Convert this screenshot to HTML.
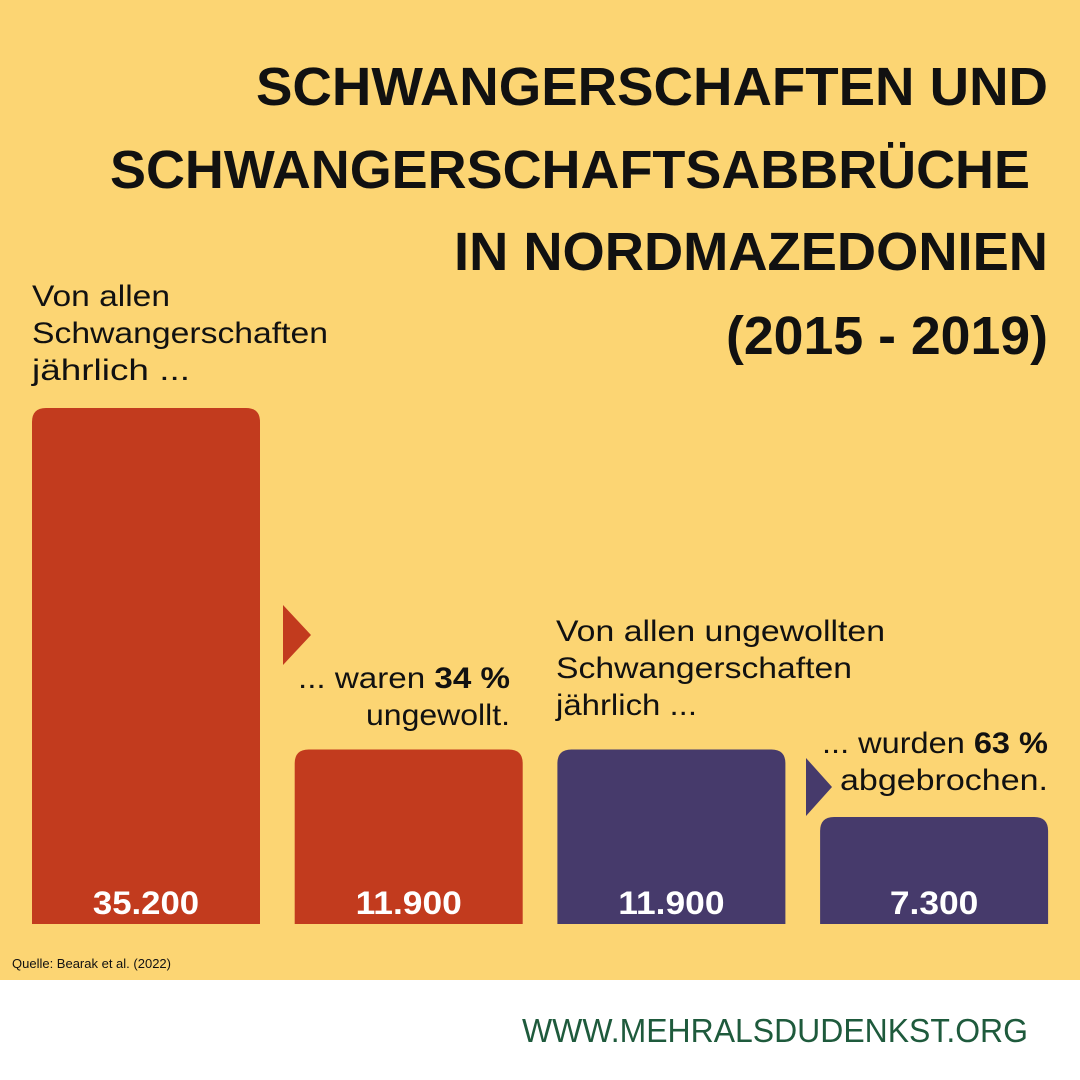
<!DOCTYPE html>
<html><head><meta charset="utf-8">
<style>
html,body{margin:0;padding:0;background:#ffffff;}
body{width:1080px;height:1080px;overflow:hidden;font-family:"Liberation Sans",sans-serif;}
svg{display:block;}
</style></head>
<body>
<svg id="chart" width="1080" height="1080" viewBox="0 0 1080 1080" xmlns="http://www.w3.org/2000/svg" font-family="Liberation Sans, sans-serif">
<rect x="0" y="0" width="1080" height="980" fill="#fcd573"/>
<rect x="0" y="980" width="1080" height="100" fill="#ffffff"/>
<g font-weight="bold" font-size="54" fill="#111" text-anchor="end">
<text x="1048" y="105" textLength="792" lengthAdjust="spacingAndGlyphs">SCHWANGERSCHAFTEN UND</text>
<text x="1030" y="188" textLength="920" lengthAdjust="spacingAndGlyphs">SCHWANGERSCHAFTSABBRÜCHE</text>
<text x="1048" y="270" textLength="594" lengthAdjust="spacingAndGlyphs">IN NORDMAZEDONIEN</text>
<text x="1048" y="354" textLength="322" lengthAdjust="spacingAndGlyphs">(2015 - 2019)</text>
</g>
<g font-size="30" fill="#111">
<text x="32" y="306" textLength="138" lengthAdjust="spacingAndGlyphs">Von allen</text>
<text x="32" y="343" textLength="296" lengthAdjust="spacingAndGlyphs">Schwangerschaften</text>
<text x="32" y="380" textLength="158" lengthAdjust="spacingAndGlyphs">jährlich ...</text>
</g>
<g font-size="30" fill="#111" text-anchor="end">
<text x="510" y="688" textLength="212" lengthAdjust="spacingAndGlyphs">... waren <tspan font-weight="bold">34 %</tspan></text>
<text x="510" y="725" textLength="144" lengthAdjust="spacingAndGlyphs">ungewollt.</text>
</g>
<g font-size="30" fill="#111">
<text x="556" y="641" textLength="329" lengthAdjust="spacingAndGlyphs">Von allen ungewollten</text>
<text x="556" y="678" textLength="296" lengthAdjust="spacingAndGlyphs">Schwangerschaften</text>
<text x="556" y="715" textLength="141" lengthAdjust="spacingAndGlyphs">jährlich ...</text>
</g>
<g font-size="30" fill="#111" text-anchor="end">
<text x="1048" y="753" textLength="226" lengthAdjust="spacingAndGlyphs">... wurden <tspan font-weight="bold">63 %</tspan></text>
<text x="1048" y="790" textLength="208" lengthAdjust="spacingAndGlyphs">abgebrochen.</text>
</g>
<polygon points="283,605 311,635 283,665" fill="#c23b1e"/>
<polygon points="806,758 832,787 806,816" fill="#463a6b"/>
<g id="bars"></g>
<text x="12" y="968" font-size="13" fill="#111">Quelle: Bearak et al. (2022)</text>
<text x="1028" y="1042" text-anchor="end" font-size="33" fill="#1e5a3c" textLength="506" lengthAdjust="spacingAndGlyphs">WWW.MEHRALSDUDENKST.ORG</text>
</svg>
<script>
const categories = ["Schwangerschaften", "ungewollt", "ungewollt (2)", "abgebrochen"];
const values = [35200, 11900, 11900, 7300];
const labels = ["35.200", "11.900", "11.900", "7.300"];
const colors = ["#c23b1e", "#c23b1e", "#463a6b", "#463a6b"];
const baseY = 924, maxH = 516, maxV = 35200;
const xLeft = 32, barW = 228, gap = 34.7;
function yScale(v){ return baseY - v / maxV * maxH; }
function xScale(i){ return xLeft + i * (barW + gap); }
const g = document.getElementById('bars');
const ns = "http://www.w3.org/2000/svg";
values.forEach((v, i) => {
  const x = xScale(i), y = yScale(v), r = 14;
  const p = document.createElementNS(ns, 'path');
  p.setAttribute('d', `M${x},${baseY} L${x},${y+r} Q${x},${y} ${x+r},${y} L${x+barW-r},${y} Q${x+barW},${y} ${x+barW},${y+r} L${x+barW},${baseY} Z`);
  p.setAttribute('fill', colors[i]);
  
  
  g.appendChild(p);
  const t = document.createElementNS(ns, 'text');
  t.setAttribute('x', x + barW/2);
  t.setAttribute('y', 914);
  t.setAttribute('text-anchor', 'middle');
  t.setAttribute('font-size', '32');
  t.setAttribute('font-weight', 'bold');
  t.setAttribute('fill', '#ffffff');
  t.setAttribute('textLength', labels[i].length * 17.7);
  t.setAttribute('lengthAdjust', 'spacingAndGlyphs');
  t.textContent = labels[i];
  
  
  g.appendChild(t);
});
</script>
</body></html>
